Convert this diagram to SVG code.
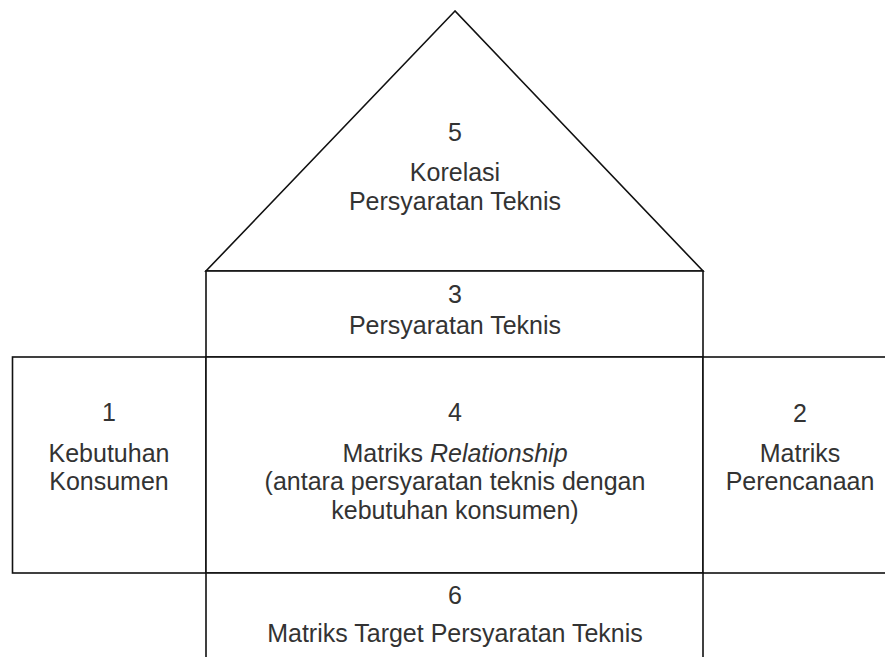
<svg xmlns="http://www.w3.org/2000/svg" width="885" height="657" viewBox="0 0 885 657">
<style>
.s{fill:#ffffff;stroke:#111111;stroke-width:1.6}
.t{font-family:"Liberation Sans",Arial,sans-serif;font-size:25px;fill:#333333;text-anchor:middle}
</style>
<rect width="885" height="657" fill="#ffffff"/>
<g id="n5">
<polygon class="s" points="455,11 206,271 703,271"/>
<text class="t" x="455" y="141">5</text>
<text class="t" x="455" y="181">Korelasi</text>
<text class="t" x="455" y="210">Persyaratan Teknis</text>
</g>
<g id="n3">
<rect class="s" x="206" y="271" width="497" height="86"/>
<text class="t" x="455" y="303">3</text>
<text class="t" x="455" y="334">Persyaratan Teknis</text>
</g>
<g id="n1">
<rect class="s" x="12.5" y="357" width="193.5" height="216"/>
<text class="t" x="109" y="421">1</text>
<text class="t" x="109" y="462">Kebutuhan</text>
<text class="t" x="109" y="490">Konsumen</text>
</g>
<g id="n4">
<rect class="s" x="206" y="357" width="497" height="216"/>
<text class="t" x="455" y="421">4</text>
<text class="t" x="455" y="462">Matriks <tspan font-style="italic">Relationship</tspan></text>
<text class="t" x="455" y="490">(antara persyaratan teknis dengan</text>
<text class="t" x="455" y="519">kebutuhan konsumen)</text>
</g>
<g id="n2">
<rect class="s" x="703" y="357" width="194" height="216"/>
<text class="t" x="800" y="422">2</text>
<text class="t" x="800" y="462">Matriks</text>
<text class="t" x="800" y="490">Perencanaan</text>
</g>
<g id="n6">
<rect class="s" x="206" y="573" width="497" height="100"/>
<text class="t" x="455" y="604">6</text>
<text class="t" x="455" y="642">Matriks Target Persyaratan Teknis</text>
</g>
<g id="connectors"></g>
</svg>
